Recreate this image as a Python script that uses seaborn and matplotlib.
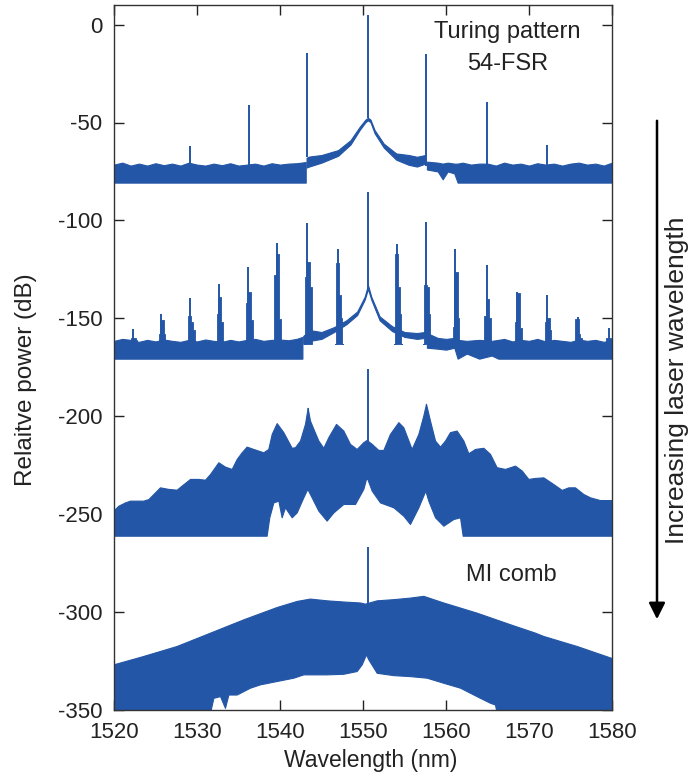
import numpy as np
import pandas as pd
import matplotlib
matplotlib.use("Agg")
import matplotlib.pyplot as plt
import seaborn as sns

# ---------------- data ----------------
# Spectrum 1: Turing pattern (54-FSR)
t_peak_lam = [1529.2, 1536.3, 1543.3, 1550.6, 1557.6, 1564.9, 1572.2]
t_peak_db = [-62, -41, -14.5, 5, -15, -39.5, -61.5]
t_left_lam = [1520, 1521, 1522, 1523, 1524, 1525, 1526, 1527, 1528, 1529, 1530, 1531, 1532,
              1533, 1534, 1535, 1536, 1537, 1538, 1539, 1540, 1541, 1542, 1543.1]
t_left_top = [-71.5, -70.5, -72, -71, -72, -70.8, -71.8, -71, -72, -70.5, -71.5, -72, -71,
              -71.8, -70.8, -72, -71.5, -71, -72, -70.8, -71.5, -71, -70.8, -70.2]
t_mid_lam = [1543.2, 1543.5, 1545, 1547, 1548.5, 1549.6, 1550.3, 1550.6, 1550.9, 1551.4,
             1552.5, 1554, 1555.5, 1556.5, 1557.5]
t_mid_top = [-68, -67.4, -66.6, -64.1, -59, -52.2, -48.5, -47.6, -48.5, -53.9,
             -60.8, -65.8, -66.6, -67.5, -66.6]
t_mid_bot = [-73, -72.5, -70.5, -67, -61.2, -53.8, -49.8, -48.9, -49.8, -55.5,
             -62.8, -69, -71.6, -72.5, -71]
t_right_lam = [1557.7, 1559, 1559.6, 1560.2, 1561, 1561.4, 1562, 1563, 1564, 1565, 1566, 1567,
               1568, 1569, 1570, 1571, 1572, 1573, 1574, 1575, 1576, 1577, 1578, 1579, 1580]
t_right_top = [-70, -70.5, -71, -70.5, -71, -71, -70.5, -71.5, -71, -71, -72, -70.5,
               -71.5, -71, -72, -70.8, -71.5, -71, -72, -71, -70.5, -71.5, -71, -72, -70.5]
t_right_bot = [-74, -75, -79, -75, -76, -80.7, -80.7, -80.7, -80.7, -80.7, -80.7, -80.7,
               -80.7, -80.7, -80.7, -80.7, -80.7, -80.7, -80.7, -80.7, -80.7, -80.7, -80.7, -80.7, -80.7]
t_floor = -80.7

# Spectrum 2: multi-line clusters
c_center = [1522.3, 1525.7, 1529.2, 1532.65, 1536.2, 1539.6, 1543.3, 1547.0,
            1554.1, 1557.6, 1561.1, 1564.9, 1568.6, 1572.2, 1575.9, 1579.6]
c_main_db = [-155.7, -147.6, -139.6, -132.7, -123.7, -111.4, -101.2, -114.6,
             -112.1, -100.8, -114.8, -122.8, -136.6, -138.2, -149.3, -154.9]
c_left_db = [-160, -157.8, -148.6, -147.6, -142.4, -128, -128.8, -121.9,
             -117.2, -133.0, -154.4, -149, -152, -152, -150.2, -160]
c_right_db = [-160, -151, -152, -139.1, -136.4, -117.2, -121.1, -138.2,
              -133.9, -133.9, -126.2, -140, -137.3, -150, -158, -160]
c_far_db = [-161, -158, -156, -152, -151, -150.3, -133.9, -150,
            -147.6, -147.6, -150, -150, -155, -156, -160, -161]
s2_pump_lam = 1550.6
s2_pump_db = -85.3
s2_left_lam = [1520, 1521, 1522, 1523, 1524, 1525, 1526, 1527, 1528, 1529, 1530, 1531, 1532,
               1533, 1534, 1535, 1536, 1537, 1538, 1539, 1540, 1541, 1542, 1542.7]
s2_left_top = [-161.5, -160.5, -161, -162, -161, -161.8, -160.8, -161.5, -162, -161, -161.8,
               -160.8, -161.5, -162, -161, -161.8, -161, -160.5, -161.5, -161, -160.8, -161.2, -160.5, -159.5]
s2_mid_lam = [1542.8, 1543.6, 1545, 1546.5, 1548, 1549.3, 1550.2, 1550.6, 1551, 1552,
              1553.5, 1555, 1556.5, 1557.4]
s2_mid_top = [-159, -156, -157, -154.5, -151, -146.5, -139, -133, -139, -149,
              -154, -157, -157.5, -157]
s2_mid_bot = [-163, -161.5, -160.5, -157, -153, -148.3, -140.5, -135, -140.5, -151,
              -156.5, -159.5, -160.5, -160]
s2_right_lam = [1557.7, 1559, 1560, 1561, 1561.4, 1562.5, 1564, 1565.5, 1566.3, 1567, 1568,
                1569, 1570, 1571, 1572, 1573, 1574, 1575, 1576, 1577, 1578, 1579, 1580]
s2_right_top = [-157.5, -160, -160.5, -160, -161, -161.5, -161, -161.5, -161, -160.5, -161.8,
                -161, -161.5, -160.5, -161.8, -161, -161.5, -162, -160.8, -161.5, -161, -162, -161]
s2_right_bot = [-165, -165.5, -166, -165, -170.6, -168, -170.6, -169, -170.6, -170.6, -170.6,
                -170.6, -170.6, -170.6, -170.6, -170.6, -170.6, -170.6, -170.6, -170.6, -170.6,
                -170.6, -170.6]
s2_floor = -170.6

# Spectrum 3: chaotic state (upper envelope and lower edge of the central gap)
s3_lam = [1519.92, 1520.52, 1521.32, 1521.93, 1523.53, 1524.14, 1525.54, 1526.55, 1527.55,
          1528.15, 1529.16, 1530.16, 1530.96, 1531.57, 1532.57, 1533.37, 1534.18, 1534.78,
          1535.38, 1535.98, 1536.79, 1537.99, 1538.59, 1539.0, 1539.6, 1540.4, 1541.41,
          1541.81, 1542.41, 1543.01, 1543.33, 1543.61, 1544.02, 1544.62, 1545.22, 1545.82,
          1546.75, 1547.63, 1548.43, 1549.24, 1550.04, 1550.44, 1551.05, 1551.85, 1552.45,
          1553.25, 1554.26, 1554.86, 1555.86, 1556.67, 1557.27, 1557.59, 1558.07, 1558.68,
          1559.28, 1559.88, 1560.48, 1561.28, 1562.09, 1562.69, 1563.49, 1564.5, 1565.3,
          1566.1, 1567.11, 1568.31, 1569.12, 1569.92, 1570.72, 1571.73, 1572.93, 1573.94,
          1574.74, 1575.54, 1576.55, 1577.35, 1578.55, 1580.0]
s3_top = [-248.2, -245.7, -244.0, -243.1, -243.1, -242.3, -236.3, -237.1, -237.5,
          -235.4, -232.0, -232.0, -232.4, -229.5, -223.5, -225.7, -226.9, -221.8,
          -218.4, -215.5, -216.7, -218.4, -216.7, -209.0, -203.5, -208.1, -216.1,
          -215.8, -212.4, -203.9, -195.7, -202.2, -206.4, -212.4, -216.1, -210.7,
          -203.9, -207.3, -214.1, -216.7, -213.2, -212.1, -214.1, -217.2, -217.2,
          -209.0, -203.0, -205.6, -216.7, -209.0, -199.6, -193.6, -202.2, -212.4,
          -215.5, -212.4, -208.1, -207.3, -212.4, -218.9, -216.7, -216.1, -219.2,
          -226.0, -226.9, -225.2, -227.7, -232.0, -231.5, -231.2, -234.6, -237.6,
          -236.3, -236.3, -239.7, -241.4, -242.8, -242.8]
s3_hole_lam = [1538.39, 1538.71, 1539.2, 1539.8, 1540.2, 1540.6, 1541.41, 1542.01, 1542.81,
               1543.29, 1543.61, 1544.62, 1545.62, 1546.43, 1547.63, 1549.04, 1550.04, 1550.36,
               1550.52, 1551.05, 1552.05, 1553.66, 1554.86, 1555.66, 1556.67, 1557.51, 1557.87,
               1558.68, 1559.68, 1560.88, 1561.69, 1562.01]
s3_hole_bot = [-261.0, -251.6, -244.0, -243.1, -251.6, -246.5, -251.6, -249.1, -241.4,
               -237.1, -239.7, -248.2, -253.3, -249.1, -244.8, -244.8, -237.1, -232.0,
               -232.0, -238.0, -244.0, -246.5, -250.8, -255.0, -246.5, -238.0, -243.1,
               -251.6, -255.9, -252.5, -251.6, -261.0]
s3_pump_db = -175.7
s3_floor = -261.0

# Spectrum 4: MI comb
s4_lam = [1519.92, 1523.53, 1527.55, 1531.57, 1535.58, 1539.6, 1542.01, 1543.61, 1545.62,
          1547.63, 1549.64, 1550.24, 1551.65, 1553.66, 1555.66, 1557.27, 1558.47, 1559.68,
          1563.7, 1567.71, 1570.72, 1571.73, 1575.74, 1580.0]
s4_top = [-326.7, -322.4, -317.3, -310.5, -303.7, -297.4, -294.3, -293.1, -294.0,
          -294.6, -295.1, -295.7, -294.0, -293.4, -292.6, -291.7, -293.4, -295.1,
          -300.3, -306.2, -310.5, -312.2, -317.3, -323.5]
s4_hole_lam = [1531.57, 1531.97, 1532.77, 1533.37, 1533.78, 1534.78, 1536.39, 1537.59, 1539.6,
               1541.61, 1542.81, 1545.62, 1547.63, 1549.24, 1549.84, 1550.36, 1550.64, 1551.65,
               1553.66, 1555.66, 1557.67, 1559.68, 1561.69, 1562.89, 1564.1, 1565.3, 1565.9, 1566.1]
s4_hole_bot = [-351.4, -343.8, -342.9, -348.9, -342.1, -342.1, -338.6, -336.9, -335.2,
               -333.5, -331.8, -331.8, -331.5, -330.1, -326.7, -321.6, -324.1, -331.0,
               -332.2, -332.7, -333.5, -336.1, -338.6, -341.2, -343.8, -346.3, -347.2, -351.4]
s4_pump_db = -267
s4_floor = -351.4

# text
x_label = "Wavelength (nm)"
y_label = "Relaitve power (dB)"
x_ticks = [1520, 1530, 1540, 1550, 1560, 1570, 1580]
y_ticks = [0, -50, -100, -150, -200, -250, -300, -350]

# ---------------- drawing ----------------
sns.set_theme(style="ticks")
plt.rcParams["font.family"] = ["Liberation Sans", "DejaVu Sans"]
plt.rcParams["axes.unicode_minus"] = False
C = "#2356a6"
TXT = "#222222"

fig = plt.figure(figsize=(6.89, 7.79), dpi=100)
ax = fig.add_axes([114 / 689, 1 - 710 / 779, 498 / 689, 705 / 779])


def band(lam, top, bot, lw=0.8):
    lam = np.asarray(lam, float)
    ax.fill_between(lam, np.asarray(bot, float) * np.ones_like(lam), top,
                    color=C, lw=lw, edgecolor=C)


# spectrum 1
band(t_left_lam, t_left_top, t_floor)
band(t_mid_lam, t_mid_top, t_mid_bot)
band(t_right_lam, t_right_top, t_right_bot)
t_base = np.interp(t_peak_lam, t_mid_lam, t_mid_top, left=-72, right=-72)
ax.vlines(t_peak_lam, t_base, t_peak_db, color=C, lw=1.4)

# spectrum 2
band(s2_left_lam, s2_left_top, s2_floor)
band(s2_mid_lam, s2_mid_top, s2_mid_bot)
band(s2_right_lam, s2_right_top, s2_right_bot)
base2 = -163
offs = np.array([-0.4, -0.2, 0.0, 0.2, 0.4, 0.6])
for c, m, l, r, f in zip(c_center, c_main_db, c_left_db, c_right_db, c_far_db):
    ax.fill_between(c + offs, base2, [base2, l, max(l, r), r, f, base2],
                    step="mid", color=C, lw=0.6, edgecolor=C)
ax.vlines(c_center, base2, c_main_db, color=C, lw=1.4)
ax.vlines([s2_pump_lam], -136, [s2_pump_db], color=C, lw=1.4)

# spectrum 3
lam3_all = np.unique(np.concatenate([s3_lam, s3_hole_lam]))
top3_all = np.interp(lam3_all, s3_lam, s3_top)
bot3_all = np.interp(lam3_all, s3_hole_lam, s3_hole_bot, left=s3_floor, right=s3_floor)
ax.fill_between(lam3_all, bot3_all, top3_all, color=C, lw=0.8, edgecolor=C)
ax.vlines([1550.6], -214, [s3_pump_db], color=C, lw=1.4)

# spectrum 4
lam4_all = np.unique(np.concatenate([s4_lam, s4_hole_lam]))
top4_all = np.interp(lam4_all, s4_lam, s4_top)
bot4_all = np.interp(lam4_all, s4_hole_lam, s4_hole_bot, left=s4_floor, right=s4_floor)
ax.fill_between(lam4_all, bot4_all, top4_all, color=C, lw=0.8, edgecolor=C)
ax.vlines([1550.6], -297, [s4_pump_db], color=C, lw=1.4)

ax.set_xlim(1520, 1580)
ax.set_ylim(-350, 10)
ax.set_xticks(x_ticks)
ax.set_yticks(y_ticks)
ax.tick_params(direction="in", length=7, width=1, top=True, right=True,
               labelsize=16, colors=TXT)
ax.tick_params(axis="y", pad=8.5)
ax.tick_params(axis="x", pad=8.5)
for s in ax.spines.values():
    s.set_color("#333333")
    s.set_linewidth(1.0)

fig.text(371 / 689, 1 - 761 / 779, x_label, fontsize=16.5, color=TXT, ha="center", va="center")
fig.text(26 / 689, 1 - 380 / 779, y_label, fontsize=17.5, color=TXT, ha="center", va="center",
         rotation=90)

ax.text(1567.4, -6.8, "Turing pattern", fontsize=17, ha="center", va="baseline", color=TXT)
ax.text(1567.4, -23.0, "54-FSR", fontsize=17, ha="center", va="baseline", color=TXT)
ax.text(1567.9, -284.0, "MI comb", fontsize=17, ha="center", va="baseline", color=TXT)

fig.patches.append(matplotlib.patches.FancyArrowPatch(
    (657 / 689, 1 - 118 / 779), (657 / 689, 1 - 622 / 779),
    transform=fig.transFigure, arrowstyle="-|>,head_length=0.7,head_width=0.35",
    mutation_scale=14, color="black", lw=1.8))
fig.text(677 / 689, 1 - 380 / 779, "Increasing laser wavelength", rotation=90,
         ha="center", va="center", fontsize=19, color=TXT)

fig.savefig("out.png", dpi=100)
